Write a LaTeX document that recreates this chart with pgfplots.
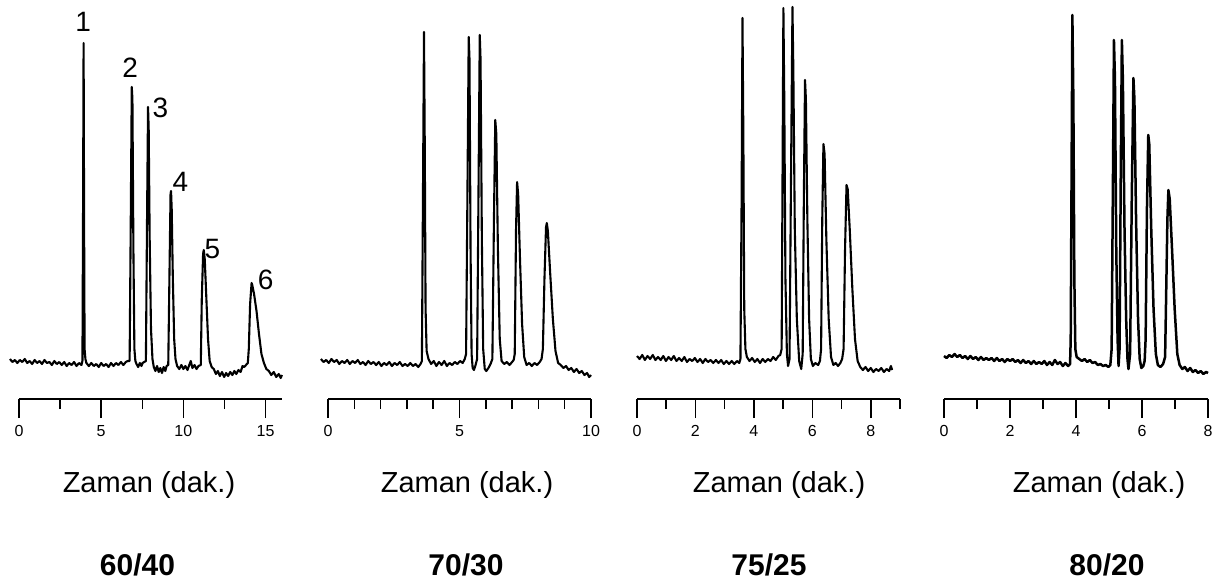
\documentclass[border=0pt]{standalone}
\usepackage{pgfplots}
\pgfplotsset{compat=1.18}
\usepackage{fontspec}
\setmainfont{Liberation Sans}

\pgfplotsset{chrom/.style={
  anchor=south west, scale only axis, width=131.5pt, height=199.5pt,
  ymin=0, ymax=399, enlargelimits=false, clip=false,
  axis x line*=bottom, axis y line=none,
  tick align=outside, major tick length=9.5pt, minor tick length=5pt,
  every tick/.style={black, line width=0.75pt},
  x axis line style={line width=0.75pt},
  /pgf/number format/assume math mode=true,
  xticklabel style={font=\fontsize{8}{9}\selectfont},
}, trace/.style={black, mark=none, line width=1.05pt, line join=round}}

\begin{document}
\begin{tikzpicture}
\path[use as bounding box] (0,0) rectangle (613.5pt,292.5pt);

% ---------- 60/40 ----------
\begin{axis}[chrom, at={(9.5pt,93pt)}, xmin=0, xmax=16,
  xtick={0,5,10,15}, minor xtick={2.5,7.5,12.5}]
\addplot[trace] coordinates {
(-0.55,40)(-0.40,37)(-0.25,39)(-0.10,36)(0.05,39)(0.20,37)(0.35,40)(0.50,36)(0.65,38)(0.80,35)
(0.95,39)(1.10,36)(1.25,38)(1.40,35)(1.55,39)(1.70,36)(1.85,37)(2.00,34)(2.15,38)(2.30,35)
(2.45,37)(2.60,34)(2.75,37)(2.90,33)(3.05,36)(3.20,34)(3.35,37)(3.50,33)(3.65,36)(3.80,34)
(3.86,38)(3.90,200)(3.93,356)(3.96,180)(3.99,50)(4.04,40)(4.10,36)
(4.25,33)(4.40,36)(4.55,33)(4.70,35)(4.85,32)(5.00,36)(5.15,33)(5.30,35)(5.45,32)(5.60,36)
(5.75,33)(5.90,36)(6.05,34)(6.20,37)(6.35,34)(6.50,37)(6.62,38)
(6.73,38)(6.80,180)(6.86,312)(6.90,300)(6.96,150)(7.02,50)(7.08,38)
(7.15,35)(7.25,32)(7.35,36)(7.45,33)(7.52,36)
(7.72,38)(7.79,180)(7.85,292)(7.89,270)(7.95,160)(8.03,70)(8.12,40)(8.20,32)
(8.30,28)(8.40,33)(8.50,27)(8.60,31)(8.70,26)(8.80,32)(8.90,28)(8.98,33)
(9.08,34)(9.15,120)(9.22,205)(9.25,208)(9.29,190)(9.36,120)(9.44,60)(9.52,40)(9.62,33)
(9.75,30)(9.88,34)(10.00,30)(10.12,33)(10.25,29)(10.38,35)(10.45,38)(10.55,31)(10.68,34)(10.80,30)(10.92,33)
(11.06,34)(11.12,100)(11.20,145)(11.24,149)(11.30,140)(11.40,100)(11.50,60)(11.60,38)(11.72,32)
(11.85,30)(11.98,25)(12.10,28)(12.22,23)(12.35,27)(12.48,22)(12.60,26)(12.72,23)(12.85,27)(12.98,24)
(13.10,28)(13.22,25)(13.35,29)(13.48,27)(13.60,33)(13.70,32)
(13.92,36)(13.98,50)(14.06,95)(14.15,116)(14.19,114)(14.30,105)(14.45,88)(14.60,65)(14.75,45)(14.90,36)(15.05,30)
(15.20,28)(15.35,24)(15.50,27)(15.65,22)(15.80,25)(15.92,21)(16.00,24)
};
\node[font=\fontsize{14}{16}\selectfont] at (axis cs:3.90,377) {1};
\node[font=\fontsize{14}{16}\selectfont] at (axis cs:6.77,331) {2};
\node[font=\fontsize{14}{16}\selectfont] at (axis cs:8.60,291) {3};
\node[font=\fontsize{14}{16}\selectfont] at (axis cs:9.82,217) {4};
\node[font=\fontsize{14}{16}\selectfont] at (axis cs:11.77,150) {5};
\node[font=\fontsize{14}{16}\selectfont] at (axis cs:15.00,119) {6};
\end{axis}

% ---------- 70/30 ----------
\begin{axis}[chrom, at={(164pt,93pt)}, xmin=0, xmax=10,
  xtick={0,5,10}, minor xtick={1,2,3,4,6,7,8,9}]
\addplot[trace] coordinates {
(-0.27,40)(-0.17,37)(-0.07,39)(0.03,36)(0.13,40)(0.23,37)(0.33,39)(0.43,35)(0.53,38)(0.63,36)
(0.73,39)(0.83,35)(0.93,38)(1.03,36)(1.13,39)(1.23,35)(1.33,37)(1.43,34)(1.53,38)(1.63,35)
(1.73,37)(1.83,34)(1.93,37)(2.03,33)(2.13,36)(2.23,34)(2.33,37)(2.43,33)(2.53,36)(2.63,34)
(2.73,37)(2.83,33)(2.93,35)(3.03,33)(3.13,36)(3.23,33)(3.33,35)(3.43,32)(3.52,35)
(3.57,38)(3.61,200)(3.65,367)(3.68,250)(3.71,90)(3.75,48)(3.82,40)
(3.92,35)(4.02,38)(4.12,33)(4.22,37)(4.32,34)(4.42,38)(4.52,33)(4.62,36)(4.72,34)(4.82,37)
(4.92,35)(5.02,38)(5.12,36)(5.20,40)
(5.25,45)(5.30,200)(5.35,362)(5.38,340)(5.42,150)(5.46,45)(5.50,31)(5.55,29)(5.60,33)
(5.67,40)(5.72,200)(5.77,364)(5.80,340)(5.85,160)(5.90,50)(5.96,30)(6.02,28)(6.10,31)(6.18,35)
(6.25,40)(6.31,180)(6.36,279)(6.40,265)(6.46,150)(6.53,60)(6.60,38)(6.70,35)(6.80,37)(6.90,34)(7.00,37)(7.06,39)
(7.10,45)(7.15,170)(7.19,217)(7.23,205)(7.30,140)(7.38,75)(7.46,42)(7.55,34)(7.65,36)(7.75,33)(7.85,36)(7.95,34)(8.05,37)(8.12,40)
(8.17,50)(8.23,120)(8.29,172)(8.32,176)(8.36,168)(8.45,125)(8.55,80)(8.65,48)(8.75,36)(8.85,34)
(8.95,31)(9.05,33)(9.15,29)(9.25,31)(9.35,27)(9.45,30)(9.55,26)(9.65,28)(9.75,24)(9.85,26)(9.93,22)(10.00,24)
};
\end{axis}

% ---------- 75/25 ----------
\begin{axis}[chrom, at={(318.5pt,93pt)}, xmin=0, xmax=9,
  xtick={0,2,4,6,8}, minor xtick={1,3,5,7,9}]
\addplot[trace] coordinates {
(0.00,43)(0.09,40)(0.18,44)(0.27,39)(0.36,43)(0.45,40)(0.54,44)(0.63,39)(0.72,42)(0.81,39)
(0.90,43)(0.99,38)(1.08,42)(1.17,39)(1.26,43)(1.35,38)(1.44,41)(1.53,38)(1.62,42)(1.71,37)
(1.80,40)(1.89,38)(1.98,41)(2.07,37)(2.16,40)(2.25,36)(2.34,40)(2.43,37)(2.52,39)(2.61,36)
(2.70,39)(2.79,36)(2.88,39)(2.97,35)(3.06,38)(3.15,35)(3.24,38)(3.33,35)(3.42,38)(3.50,36)
(3.54,40)(3.58,200)(3.61,381)(3.64,260)(3.67,90)(3.71,50)(3.76,42)
(3.85,38)(3.94,41)(4.03,37)(4.12,40)(4.21,36)(4.30,40)(4.39,37)(4.48,40)(4.57,38)(4.66,42)(4.75,39)(4.84,43)(4.90,44)
(4.95,50)(4.98,220)(5.01,391)(5.04,300)(5.08,120)(5.13,45)(5.17,33)
(5.22,40)(5.27,220)(5.32,392)(5.35,330)(5.40,170)(5.47,80)(5.55,38)(5.62,30)
(5.67,45)(5.71,200)(5.75,319)(5.78,300)(5.83,180)(5.89,80)(5.95,40)(6.02,33)(6.10,36)(6.20,34)(6.26,38)
(6.30,50)(6.34,180)(6.38,255)(6.42,245)(6.48,160)(6.56,80)(6.64,42)(6.72,34)(6.80,36)(6.88,33)(6.96,36)(7.02,40)
(7.07,50)(7.12,150)(7.17,214)(7.21,210)(7.28,170)(7.37,110)(7.46,60)(7.55,38)(7.64,32)(7.73,29)
(7.82,32)(7.91,28)(8.00,31)(8.09,27)(8.18,30)(8.27,28)(8.36,31)(8.45,27)(8.54,30)(8.63,28)(8.69,33)(8.73,29)
};
\end{axis}

% ---------- 80/20 ----------
\begin{axis}[chrom, at={(472pt,93pt)}, width=132pt, xmin=0, xmax=8,
  xtick={0,2,4,6,8}, minor xtick={1,3,5,7}]
\addplot[trace, line width=1.25pt] coordinates {
(0.00,43)(0.08,41)(0.16,44)(0.24,42)(0.32,45)(0.40,42)(0.48,44)(0.56,41)(0.64,43)(0.72,40)
(0.80,43)(0.88,40)(0.96,42)(1.04,39)(1.12,42)(1.20,39)(1.28,41)(1.36,39)(1.44,41)(1.52,38)
(1.60,41)(1.68,38)(1.76,40)(1.84,37)(1.92,40)(2.00,38)(2.08,40)(2.16,37)(2.24,39)(2.32,36)
(2.40,39)(2.48,36)(2.56,38)(2.64,35)(2.72,38)(2.80,35)(2.88,37)(2.96,35)(3.04,38)(3.12,34)
(3.20,37)(3.28,34)(3.36,39)(3.44,35)(3.52,37)(3.60,33)(3.68,36)(3.76,33)(3.82,35)
(3.84,60)(3.87,250)(3.89,384)(3.92,300)(3.95,120)(3.98,50)(4.02,42)
(4.10,40)(4.18,38)(4.26,40)(4.34,37)(4.42,39)(4.50,36)(4.58,37)(4.66,34)(4.74,35)(4.82,33)(4.90,34)(4.98,32)(5.04,34)
(5.08,50)(5.12,220)(5.15,359)(5.18,320)(5.22,150)(5.26,60)(5.29,33)
(5.32,50)(5.36,240)(5.39,359)(5.42,320)(5.47,170)(5.52,80)(5.56,40)(5.59,30)
(5.64,45)(5.69,200)(5.74,321)(5.77,300)(5.82,180)(5.88,80)(5.93,40)(5.98,31)(6.04,33)(6.08,38)
(6.11,60)(6.15,190)(6.19,264)(6.22,255)(6.28,170)(6.35,90)(6.42,45)(6.48,34)(6.56,32)(6.64,35)(6.70,42)
(6.72,80)(6.77,180)(6.80,209)(6.84,200)(6.91,150)(6.99,90)(7.07,45)(7.14,34)(7.22,30)(7.30,32)
(7.38,28)(7.46,31)(7.54,27)(7.62,29)(7.70,26)(7.78,28)(7.86,25)(7.94,27)(8.00,26)
};
\end{axis}

% ---------- labels ----------
\foreach \x in {74.5,233.5,389.5,549.5}
  \node[anchor=base, font=\fontsize{14.5}{17}\selectfont] at (\x pt,46.5pt) {Zaman (dak.)};
\node[anchor=base, font=\fontsize{15}{18}\selectfont\bfseries] at (68.75pt,5pt) {60/40};
\node[anchor=base, font=\fontsize{15}{18}\selectfont\bfseries] at (233pt,5pt) {70/30};
\node[anchor=base, font=\fontsize{15}{18}\selectfont\bfseries] at (384.5pt,5pt) {75/25};
\node[anchor=base, font=\fontsize{15}{18}\selectfont\bfseries] at (553.5pt,5pt) {80/20};
\end{tikzpicture}
\end{document}
